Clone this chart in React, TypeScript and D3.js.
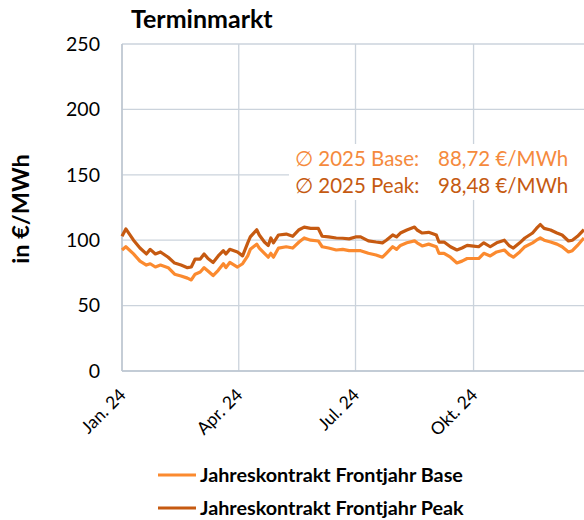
import React from "react";
import * as d3 from "d3";

const dates = [
  "2024-01-01","2024-01-04","2024-01-10","2024-01-15","2024-01-20","2024-01-23","2024-01-27","2024-01-31",
  "2024-02-06","2024-02-11","2024-02-16","2024-02-21","2024-02-24","2024-02-27","2024-03-02","2024-03-05",
  "2024-03-08","2024-03-12","2024-03-16","2024-03-20","2024-03-22","2024-03-25","2024-03-31","2024-04-04",
  "2024-04-08","2024-04-10","2024-04-15","2024-04-17","2024-04-21","2024-04-24","2024-04-26","2024-04-28",
  "2024-05-02","2024-05-08","2024-05-13","2024-05-18","2024-05-22","2024-05-27","2024-06-02","2024-06-05",
  "2024-06-10","2024-06-16","2024-06-21","2024-06-26","2024-07-01","2024-07-05","2024-07-11","2024-07-17",
  "2024-07-22","2024-07-25","2024-07-30","2024-08-02","2024-08-05","2024-08-10","2024-08-16","2024-08-18",
  "2024-08-22","2024-08-27","2024-09-02","2024-09-04","2024-09-08","2024-09-13","2024-09-18","2024-09-22",
  "2024-09-26","2024-10-01","2024-10-05","2024-10-09","2024-10-14","2024-10-19","2024-10-25","2024-10-29",
  "2024-11-01","2024-11-06","2024-11-10","2024-11-16","2024-11-19","2024-11-22","2024-11-25","2024-11-30",
  "2024-12-05","2024-12-09","2024-12-14","2024-12-17","2024-12-21","2024-12-26",
];

const peakValues = [
  103, 108.6, 100, 94, 89.5, 93, 89.5, 91,
  87, 82.5, 81, 79, 79.5, 85.6, 85.6, 89.5,
  86, 83, 88, 92, 89.5, 93, 91, 88,
  98, 102.5, 108, 104, 98.6, 96, 101.7, 98,
  104, 104.7, 103, 108, 110, 109, 109, 103,
  102.5, 101.7, 101.5, 101, 102.5, 102.5, 99.5, 98.6,
  98, 100, 104, 102.5, 105.5, 107.8, 110, 107.8,
  105.5, 106, 104, 98.6, 98.6, 95, 92.5, 94,
  96, 95.5, 95, 98, 95, 98, 100, 95.6,
  94, 98, 101.7, 105.5, 109, 112, 109, 107.8,
  105.5, 104, 99.4, 100, 103, 108,
];

const baseValues = [
  92.5, 95, 89.5, 84, 81, 82, 79.5, 81,
  79, 74, 72.6, 71, 69.6, 74, 75.7, 79,
  76.5, 73, 77, 82, 79, 83, 79.5, 82,
  88, 93, 97, 94, 90, 87, 90, 87,
  94, 95, 94, 98.6, 101.7, 100, 99.4, 95,
  94, 92.5, 93, 92, 92, 92, 90, 88.7,
  87, 90, 95, 93, 96, 98, 99.5, 98,
  95.6, 97, 95, 90, 90, 87, 82.6, 84,
  86, 86, 86, 90, 88, 91, 92.5, 88.7,
  87, 91, 95, 98, 100, 101.7, 100, 98.6,
  97, 95, 91, 92, 96, 101.7,
];

const yTicks = [0, 50, 100, 150, 200, 250];
const xTickDates = ["2024-01-01", "2024-04-01", "2024-07-01", "2024-10-01"];
const xTickLabels = ["Jan. 24", "Apr. 24", "Jul. 24", "Okt. 24"];
const seriesNames = ["Jahreskontrakt Frontjahr Base", "Jahreskontrakt Frontjahr Peak"];
const annotLabels = ["\u2205 2025 Base:", "\u2205 2025 Peak:"];
const annotValues = ["88,72 €/MWh", "98,48 €/MWh"];
const title = "Terminmarkt";
const yTitle = "in €/MWh";

const BASE_COLOR = "#fb8a2f";
const PEAK_COLOR = "#c65a11";
const GRID = "#cbd3dc";
const FONT = "Lato, 'Open Sans', sans-serif";

export default function App() {
  const W = 584, H = 520;
  const parse = d3.utcParse("%Y-%m-%d");
  const x = d3.scaleUtc()
    .domain([parse("2024-01-01")!, parse("2025-01-01")!])
    .range([122, 591.6]);
  const y = d3.scaleLinear().domain([0, 250]).range([371, 44]);

  const base = dates.map((d, i) => ({ d: parse(d)!, v: baseValues[i] }));
  const peak = dates.map((d, i) => ({ d: parse(d)!, v: peakValues[i] }));
  const line = d3.line<{ d: Date; v: number }>().x(p => x(p.d)).y(p => y(p.v));

  const colors = [BASE_COLOR, PEAK_COLOR];
  const annotColors = ["#f58a3d", "#c55a11"];

  return (
    <svg width={W} height={H} style={{ position: "absolute", left: 0, top: 0, background: "#fff" }} fontFamily={FONT}>
      <rect x={0} y={0} width={W} height={H} fill="#fff" />
      {/* grid */}
      {yTicks.map(t => (
        <line key={"gy" + t} x1={122} x2={W} y1={y(t)} y2={y(t)} stroke={GRID} strokeWidth={1.3} />
      ))}
      {xTickDates.map(t => (
        <line key={"gx" + t} x1={x(parse(t)!)} x2={x(parse(t)!)} y1={y(250)} y2={y(0)} stroke={GRID} strokeWidth={1.3} />
      ))}
      <line x1={122} x2={122} y1={y(250)} y2={y(0)} stroke="#bcc6d0" strokeWidth={1.5} />
      <line x1={122} x2={W} y1={y(0)} y2={y(0)} stroke="#bcc6d0" strokeWidth={1.5} />

      {/* annotation background */}
      <rect x={289} y={144} width={W - 289} height={56} fill="#fff" />

      {/* lines */}
      <path d={line(base)!} fill="none" stroke={BASE_COLOR} strokeWidth={3.2} strokeLinejoin="round" />
      <path d={line(peak)!} fill="none" stroke={PEAK_COLOR} strokeWidth={3.2} strokeLinejoin="round" />

      {/* y ticks */}
      {yTicks.map(t => (
        <text key={"ty" + t} x={100} y={y(t)} dy="0.35em" textAnchor="end" fontSize={19.5} fill="#000">{t}</text>
      ))}
      {/* x ticks */}
      {xTickDates.map((t, i) => (
        <text key={"tx" + t} transform={`translate(${x(parse(t)!) + 5},${396}) rotate(-45)`} textAnchor="end" fontSize={17.5} fill="#000">
          {xTickLabels[i]}
        </text>
      ))}

      {/* titles */}
      <text x={131} y={28} fontSize={25} fontWeight="bold" fill="#000">{title}</text>
      <text transform={`translate(29,209) rotate(-90)`} textAnchor="middle" fontSize={23.5} fontWeight="bold" fill="#000">{yTitle}</text>

      {/* annotation */}
      {annotLabels.map((l, i) => (
        <g key={"an" + i}>
          <text x={295} y={166 + i * 27} fontSize={20.5} fill={annotColors[i]}>{l}</text>
          <text x={438} y={166 + i * 27} fontSize={20.5} fill={annotColors[i]}>{annotValues[i]}</text>
        </g>
      ))}

      {/* legend */}
      {seriesNames.map((n, i) => (
        <g key={"lg" + i}>
          <line x1={158} x2={196} y1={475 + i * 33} y2={475 + i * 33} stroke={colors[i]} strokeWidth={3} />
          <text x={200} y={475 + i * 33} dy="0.35em" fontSize={19.8} fontWeight="bold" fill="#000">{n}</text>
        </g>
      ))}
    </svg>
  );
}
